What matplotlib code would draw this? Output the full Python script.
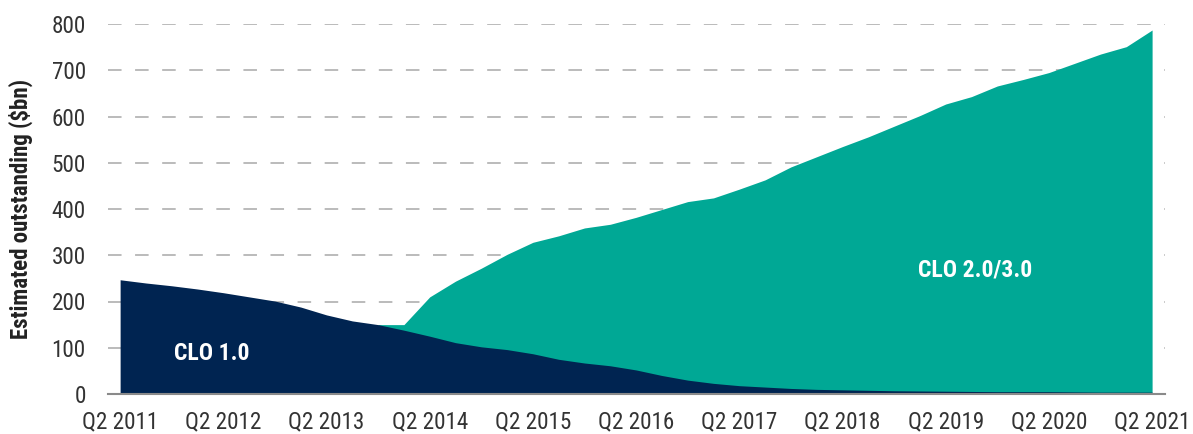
#!/usr/bin/env python3
"""CLO outstanding by vintage, Q2 2011 - Q2 2021."""

import numpy as np
import matplotlib

matplotlib.use('Agg')
import matplotlib.pyplot as plt

plt.rcParams['font.family'] = ['Roboto Condensed', 'Liberation Sans Narrow', 'Roboto', 'DejaVu Sans']

# quarterly series, Q2 2011 .. Q2 2021 (41 points)
quarters = [f'Q{(q % 4) + 1} {2011 + (q + 1) // 4}' for q in range(1, 42)]
clo1 = [247, 240, 234, 227, 219, 210, 201, 188, 171, 158,
        150, 138, 125, 111, 102, 96, 87, 75, 67, 61,
        52, 40, 30, 23, 18, 15, 12, 10, 9, 8,
        7, 6.5, 6, 5.5, 5, 5, 5, 4.5, 4, 4, 4]
clo2 = [None] * 10 + [150, 150, 210, 244, 272, 302, 328, 342, 359, 367,
                      382, 399, 416, 424, 443, 463, 491, 513, 535, 556,
                      579, 602, 627, 643, 666, 680, 695, 715, 735, 751, 787]
tick_idx = list(range(0, 41, 4))
tick_labels = [quarters[i] for i in tick_idx]

NAVY = '#002451'
TEAL = '#00A895'

x = np.arange(len(quarters))
y1 = np.array(clo1, dtype=float)
y2 = np.array([np.nan if v is None else v for v in clo2], dtype=float)

fig = plt.figure(figsize=(11.93, 4.34), dpi=100)
ax = fig.add_axes([108 / 1193, 40 / 434, (1165 - 108) / 1193, (394 - 24) / 434])

ok = ~np.isnan(y2)
ax.fill_between(x[ok], 0, y2[ok], color=TEAL, lw=0, zorder=2)
ax.fill_between(x, 0, y1, color=NAVY, lw=0, zorder=3)

ax.set_xlim(-0.47, 40.5)
ax.set_ylim(0, 800)
ax.set_yticks(range(0, 801, 100))
ax.set_xticks(tick_idx)
ax.set_xticklabels(tick_labels)

for v in range(100, 801, 100):
    ax.axhline(v, color='#b5b5b5', lw=1.3, linestyle=(0, (7.5, 7.5)), zorder=1)

for s in ['top', 'right', 'left']:
    ax.spines[s].set_visible(False)
ax.spines['bottom'].set_color('#8a8a8a')
ax.spines['bottom'].set_linewidth(1.5)
ax.spines['bottom'].set_zorder(4)

ax.tick_params(axis='both', length=0, labelsize=16.7, colors='#333333')
ax.tick_params(axis='y', pad=16)
ax.tick_params(axis='x', pad=12)

ax.set_ylabel('Estimated outstanding ($bn)', fontsize=16.5, fontweight='bold',
              color='#222222', labelpad=13)

ax.text(3.55, 88, 'CLO 1.0', color='white', fontsize=17, fontweight='bold',
        ha='center', va='center', zorder=5)
ax.text(33.15, 268, 'CLO 2.0/3.0', color='white', fontsize=17, fontweight='bold',
        ha='center', va='center', zorder=5)

fig.savefig('out.png', dpi=100)
